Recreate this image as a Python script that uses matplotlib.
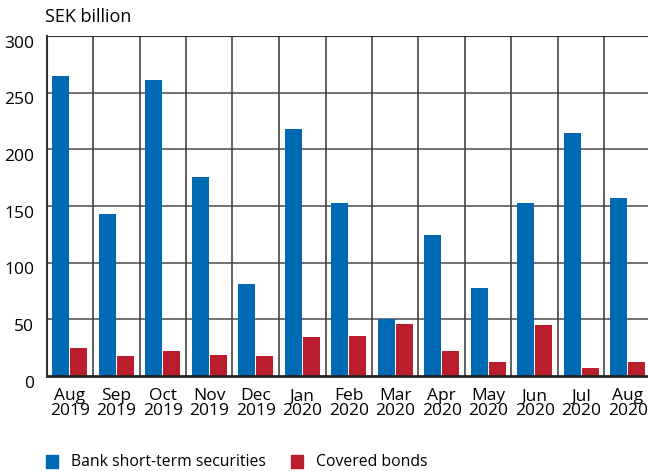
import matplotlib
matplotlib.use("Agg")
import matplotlib.pyplot as plt
import matplotlib.transforms as mtransforms
from matplotlib.patches import Rectangle
import numpy as np

plt.rcParams['font.family'] = ['Open Sans', 'DejaVu Sans']

categories = ["Aug\n2019", "Sep\n2019", "Oct\n2019", "Nov\n2019", "Dec\n2019", "Jan\n2020",
              "Feb\n2020", "Mar\n2020", "Apr\n2020", "May\n2020", "Jun\n2020", "Jul\n2020", "Aug\n2020"]
bank_short_term = [265, 143, 261, 176, 81, 218, 153, 50, 124, 78, 153, 214, 157]
covered_bonds = [25, 18, 22, 18.5, 17.5, 34, 35, 46, 22, 12.5, 45, 7, 12.5]
series_names = ["Bank short-term securities", "Covered bonds"]
colors = ["#0069B4", "#BA1E2D"]

W, H = 648, 471
fig = plt.figure(figsize=(W / 100, H / 100), dpi=100)
left, right, bottom, top = 46.5, 651, 376, 36
ax = fig.add_axes([left / W, (H - bottom) / H, (right - left) / W, (bottom - top) / H])

x = np.arange(len(categories))
bw = 0.366
off = 0.194
ax.bar(x - off, bank_short_term, bw, color=colors[0], zorder=3)
ax.bar(x + off, covered_bonds, bw, color=colors[1], zorder=3)

ax.set_xlim(-0.5, len(categories) - 0.5)
ax.set_ylim(0, 300)
ax.set_yticks(range(0, 301, 50))
for yv in range(50, 301, 50):
    ax.axhline(yv, color="#5a5a5a", lw=1.2, zorder=1)
for xv in np.arange(0.5, len(categories) - 0.5, 1):
    ax.axvline(xv, color="#444444", lw=1.2, zorder=1)
ax.axhline(300, color="#333333", lw=1.5, zorder=4)

for s in ["top", "right"]:
    ax.spines[s].set_visible(False)
ax.spines["left"].set_color("#333333")
ax.spines["left"].set_linewidth(1.5)
ax.spines["bottom"].set_color("#222222")
ax.spines["bottom"].set_linewidth(2)
ax.spines["bottom"].set_zorder(5)

ax.set_xticks(x)
ax.set_xticklabels(categories, fontsize=12.5, linespacing=0.9)
ax.tick_params(axis="x", length=0, pad=9)
ax.tick_params(axis="y", length=0, pad=9, labelsize=12.5)
shift = mtransforms.ScaledTranslation(0, -5.5 / 100, fig.dpi_scale_trans)
for lab in ax.get_yticklabels():
    lab.set_transform(lab.get_transform() + shift)

fig.text(45 / W, 1 - 17 / H, "SEK billion", fontsize=13, va="center", ha="left")

# legend
for i, (name, xs, xt) in enumerate(zip(series_names, [46, 291], [71, 316])):
    fig.patches.append(Rectangle((xs / W, 1 - 468 / H), 12 / W, 13 / H,
                                 transform=fig.transFigure, color=colors[i]))
    fig.text(xt / W, 1 - 461.5 / H, name, fontsize=11.3, va="center", ha="left")

fig.savefig("out.png", dpi=100)
